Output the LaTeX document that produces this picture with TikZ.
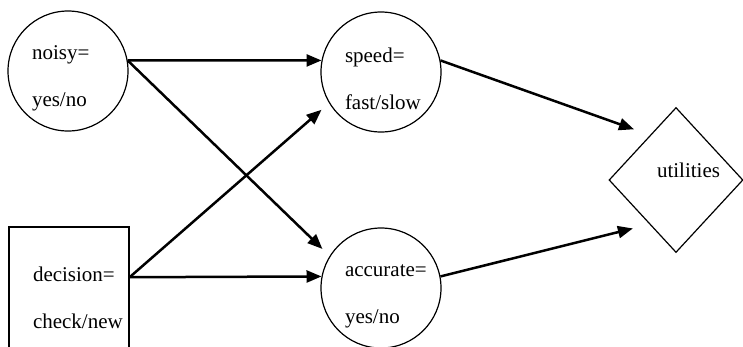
\documentclass[tikz,border=0pt]{standalone}
\usepackage{fontspec}
\setmainfont{Liberation Serif}
\usetikzlibrary{shapes.geometric,arrows.meta}

\begin{document}
\begin{tikzpicture}[x=1pt,y=-1pt,
  chance/.style={circle,draw,line width=1.2pt,minimum size=120pt,inner sep=0pt,
    text width=72pt,text height=28pt,align=left,font=\fontsize{21}{47}\selectfont},
  choice/.style={rectangle,draw,line width=1.2pt,minimum width=120pt,minimum height=124pt,
    inner sep=0pt,text width=72pt,align=left,font=\fontsize{21}{47}\selectfont},
  payoff/.style={diamond,draw,line width=1.2pt,minimum width=134pt,minimum height=145pt,
    inner sep=0pt,text width=38pt,text height=14pt,text depth=20pt,align=left,
    font=\fontsize{21}{25}\selectfont},
  arc/.style={-{Triangle[length=15pt,width=12pt]},line width=2.5pt}]
\useasboundingbox (0,0) rectangle (743,346);

% Chance and decision nodes
\node[chance] (noisy) at (68,71) {noisy=\\yes/no};
\node[choice,text height=32pt] (decision) at (69,289) {decision=\\check/new};
\node[chance] (speed) at (381,72) {speed=\\fast/slow};
\node[chance] (accurate) at (381,288) {accurate=\\yes/no};

% Utility node
\node[payoff] (utilities) at (676,180) {utilities};

% Influences
\draw[arc] (noisy.10) -- (speed.169);
\draw[arc,shorten >=10pt] (noisy.10) -- (accurate.148);
\draw[arc,shorten >=10pt] (decision.11) -- (speed.211);
\draw[arc] (decision.11) -- (accurate.169);
\draw[arc,shorten >=17pt] (speed.11) -- (utilities.120);
\draw[arc,shorten >=17pt] (accurate.11) -- (utilities.239);

\end{tikzpicture}
\end{document}
